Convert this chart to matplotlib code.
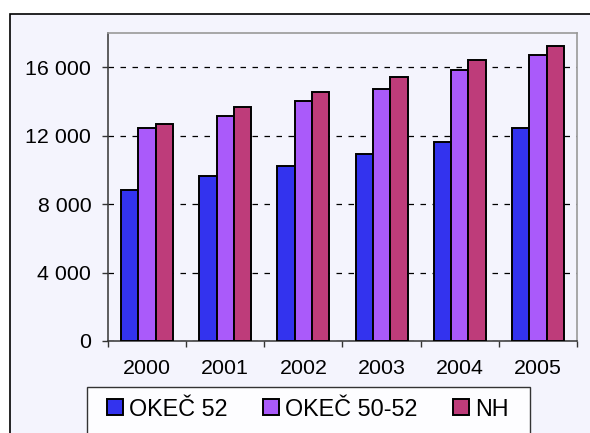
import matplotlib.pyplot as plt
import numpy as np
from matplotlib.patches import Rectangle
from matplotlib.ticker import FuncFormatter

plt.rcParams['font.family'] = ['Liberation Sans', 'DejaVu Sans']

## data
years = ['2000', '2001', '2002', '2003', '2004', '2005']
okec_52 = [8800, 9650, 10250, 10950, 11650, 12450]
okec_50_52 = [12450, 13150, 14000, 14700, 15850, 16700]
nh = [12700, 13650, 14550, 15400, 16450, 17250]
series_names = ['OKEČ 52', 'OKEČ 50-52', 'NH']

## colours
bg = '#f4f4fd'
colors = ['#3333ee', '#aa5afa', '#be3c7a']
tick_fs = 15.4
leg_fs = 16.8

W, H = 590, 433
fig = plt.figure(figsize=(W / 100, H / 100), dpi=100)
fig.patch.set_facecolor('white')

# outer chart frame (runs off the right and bottom of the picture)
fig.patches.append(Rectangle((9.5 / W, -0.1), 1.2, 1 - 13.5 / H + 0.1,
                             transform=fig.transFigure, facecolor=bg,
                             edgecolor='black', linewidth=1.2, zorder=-5))

ax = fig.add_axes([108 / W, 1 - 341 / H, (577 - 108) / W, (341 - 33) / H])
ax.set_facecolor(bg)

x = np.arange(len(years))
w = 0.222
for i, (vals, c) in enumerate(zip([okec_52, okec_50_52, nh], colors)):
    ax.bar(x + (i - 1) * w, vals, width=w, color=c, edgecolor='black',
           linewidth=1.4, label=series_names[i], zorder=3)

ax.set_xlim(-0.5, len(years) - 0.5)
ax.set_ylim(0, 18000)
ax.set_yticks([0, 4000, 8000, 12000, 16000])
ax.yaxis.set_major_formatter(FuncFormatter(lambda v, p: f'{int(v):,}'.replace(',', ' ')))
ax.set_xticks(x)
ax.set_xticklabels(years)
ax.set_xticks(np.arange(-0.5, len(years)), minor=True)

ax.tick_params(axis='y', direction='out', length=4, width=1, color='#333333',
               labelsize=tick_fs, pad=8)
ax.tick_params(axis='x', which='major', length=0, labelsize=tick_fs, pad=13)
ax.tick_params(axis='x', which='minor', direction='out', length=4, width=1,
               color='#333333')

ax.yaxis.grid(True, linestyle=(0, (4.4, 5.2)), color='black', linewidth=0.9)
ax.set_axisbelow(True)

for s in ['left', 'bottom']:
    ax.spines[s].set_color('#333333')
    ax.spines[s].set_linewidth(1.1)
for s in ['top', 'right']:
    ax.spines[s].set_color('#999999')
    ax.spines[s].set_linewidth(1.2)

# legend box (frame drawn separately so it runs past the bottom edge)
fig.patches.append(Rectangle((86.5 / W, -0.1), (530 - 86.5) / W, 1 - 387 / H + 0.1,
                             transform=fig.transFigure, facecolor='#fdfdff',
                             edgecolor='#333333', linewidth=1.0, zorder=1))
leg = fig.legend(loc='center left', bbox_to_anchor=(107 / W, 1 - 409 / H),
                 ncol=3, frameon=False, fontsize=leg_fs, handlelength=0.68,
                 handleheight=0.68, handletextpad=0.28, columnspacing=1.5,
                 borderaxespad=0, borderpad=0)

fig.savefig('out.png', dpi=100, facecolor=fig.get_facecolor())
